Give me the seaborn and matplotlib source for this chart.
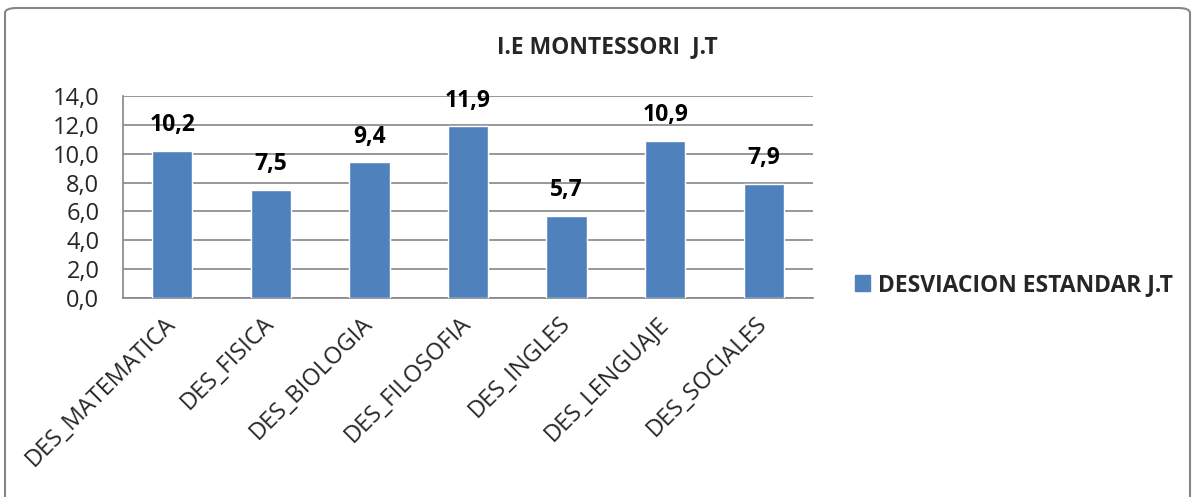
import numpy as np
import pandas as pd
import matplotlib.pyplot as plt
import matplotlib.patches as mpatches
import seaborn as sns

# datos de la grafica
materias = ['DES_MATEMATICA', 'DES_FISICA', 'DES_BIOLOGIA', 'DES_FILOSOFIA',
            'DES_INGLES', 'DES_LENGUAJE', 'DES_SOCIALES']
desviacion = [10.2, 7.5, 9.4, 11.9, 5.7, 10.9, 7.9]
serie = 'DESVIACION ESTANDAR J.T'
titulo = 'I.E MONTESSORI  J.T'
y_ticks = [0, 2, 4, 6, 8, 10, 12, 14]

df = pd.DataFrame({'Materia': materias, 'Desviacion': desviacion})

sns.set_style('white')
plt.rcParams['font.family'] = ['Open Sans', 'DejaVu Sans']

azul = '#4F81BD'
gris = '#868686'

fig = plt.figure(figsize=(12.04, 4.97), dpi=100)
ax = fig.add_axes([123 / 1204, 1 - 298 / 497, (813 - 123) / 1204, (298 - 96) / 497])

sns.barplot(data=df, x='Materia', y='Desviacion', color=azul, width=0.41,
            saturation=1, ax=ax, zorder=3)

# etiquetas de datos con coma decimal
for i, v in enumerate(desviacion):
    ax.annotate(f'{v:.1f}'.replace('.', ','), (i, v), xytext=(0, 18.5),
                textcoords='offset points', ha='center', va='center',
                fontsize=16.5, fontweight='bold', color='black', zorder=4)

ax.set_ylim(0, 14)
ax.set_xlim(-0.5, len(materias) - 0.5)
ax.set_yticks(y_ticks)
ax.set_yticklabels([f'{t:.1f}'.replace('.', ',') for t in y_ticks], fontsize=17)
ax.yaxis.grid(True, color=gris, linewidth=1.2, zorder=0)
ax.set_axisbelow(True)
ax.set_xlabel('')
ax.set_ylabel('')

# ticks del eje x entre categorias, etiquetas en el centro
ax.set_xticks(np.arange(len(materias)))
ax.set_xticklabels(materias, rotation=45, ha='right', va='center',
                   rotation_mode='anchor', fontsize=17)
ax.set_xticks(np.arange(len(materias) + 1) - 0.5, minor=True)
ax.tick_params(axis='x', which='major', length=0, pad=16)
ax.tick_params(axis='x', which='minor', length=5.5, width=1.2, color=gris,
               direction='out')
ax.tick_params(axis='y', length=6, width=1.2, color=gris, direction='out', pad=11)

for s in ['top', 'right']:
    ax.spines[s].set_visible(False)
for s in ['left', 'bottom']:
    ax.spines[s].set_color(gris)
    ax.spines[s].set_linewidth(1.2)

fig.text(607 / 1204, 1 - 47 / 497, titulo, ha='center', va='center',
         fontsize=16.5, fontweight='bold')

handle = mpatches.Patch(color=azul, label=serie)
fig.legend(handles=[handle], loc='center left', bbox_to_anchor=(834 / 1204, 1 - 285 / 497),
           frameon=False, prop={'size': 16.5, 'weight': 'bold'},
           handlelength=0.65, handleheight=0.65, handletextpad=0.35)

# borde exterior del grafico
borde = mpatches.FancyBboxPatch((5 / 1204, -0.05), 1185 / 1204, 1 - 8 / 497 + 0.05,
                                boxstyle='round,pad=0,rounding_size=0.01',
                                transform=fig.transFigure, fill=False,
                                edgecolor=gris, linewidth=1.5)
fig.patches.append(borde)

plt.savefig('out.png', dpi=100)
